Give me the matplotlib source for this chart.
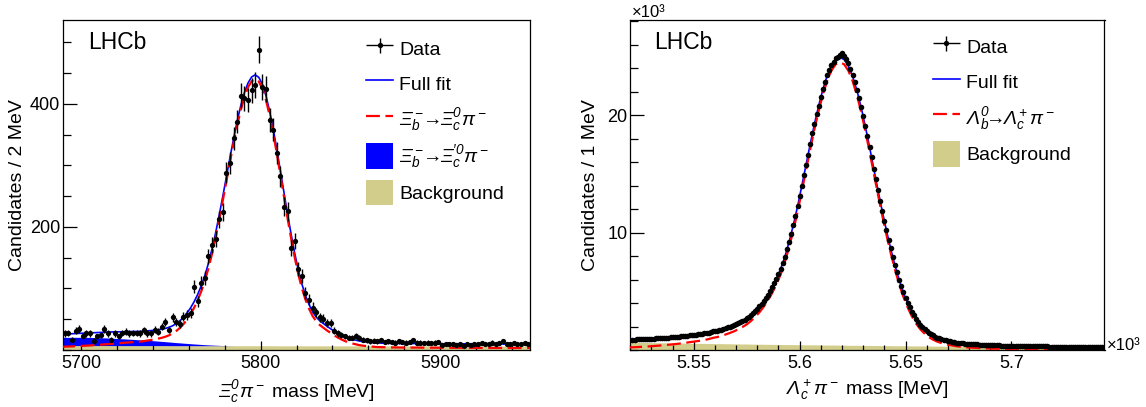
import numpy as np
import matplotlib
matplotlib.use('Agg')
import matplotlib.pyplot as plt
from matplotlib.ticker import MultipleLocator, FixedLocator, FuncFormatter
from matplotlib.lines import Line2D
from matplotlib.patches import Patch
from matplotlib.legend_handler import HandlerErrorbar

plt.rcParams['font.family'] = ['Liberation Sans', 'DejaVu Sans']
plt.rcParams['mathtext.fontset'] = 'custom'
plt.rcParams['mathtext.rm'] = 'Liberation Sans:italic'
plt.rcParams['mathtext.it'] = 'Liberation Sans:italic'
plt.rcParams['mathtext.bf'] = 'Liberation Sans:bold'
plt.rcParams['lines.scale_dashes'] = False

KHAKI = '#d2cd8a'
BLUE = '#0000ff'
RED = '#ff0000'

# --- Left: Xi_b- -> Xi_c0 pi-, 2 MeV bins (centres from 5691 MeV) ---
XI_DATA_FIRST = 5691
XI_DATA = [
    27, 28, 17, 31, 34, 22, 27, 27, 15, 22,
    24, 34, 27, 17, 27, 22, 28, 30, 27, 28,
    28, 27, 32, 27, 27, 33, 30, 38, 45, 33,
    53, 45, 42, 54, 57, 60, 103, 79, 109, 117,
    152, 170, 180, 212, 224, 288, 304, 344, 371, 413,
    409, 406, 422, 430, 488, 427, 424, 374, 358, 320,
    282, 233, 225, 166, 177, 131, 120, 93, 82, 69,
    61, 53, 51, 44, 44, 31, 27, 25, 22, 20,
    20, 23, 20, 17, 16, 14, 15, 14, 16, 13,
    14, 13, 12, 14, 13, 12, 13, 16, 12, 12,
    11, 12, 11, 12, 13, 8, 10, 9, 10, 8,
    9, 7, 9, 8, 10, 9, 11, 10, 9, 12,
    10, 11, 14, 10, 9, 11, 10, 9, 11, 10,
]

# fit components sampled every 2 MeV from 5689 MeV
XI_CURVE_FIRST = 5689
XI_SIGNAL = [
    5.2, 5.4, 5.6, 5.9, 6.1, 6.4, 6.7, 7.0, 7.4, 7.8,
    8.2, 8.6, 9.1, 9.6, 10.1, 10.6, 11.0, 11.5, 11.9, 12.3,
    12.8, 13.2, 13.7, 14.4, 15.3, 16.3, 17.2, 18.5, 19.8, 21.6,
    23.8, 26.8, 30.8, 35.6, 41.8, 49.3, 58.1, 68.6, 81.0, 95.5,
    112.6, 132.9, 156.6, 183.0, 212.1, 242.9, 274.6, 306.2, 336.6, 365.2,
    390.3, 411.0, 426.8, 436.5, 440.0, 436.0, 424.6, 406.1, 381.5, 352.4,
    319.9, 285.1, 249.5, 214.3, 181.3, 150.5, 123.2, 100.3, 81.8, 66.9,
    55.0, 46.6, 40.5, 36.1, 31.7, 27.7, 23.8, 20.2, 17.2, 14.5,
    12.3, 10.6, 9.2, 7.9, 7.0, 6.4, 5.7, 5.3, 4.8, 4.6,
    4.4, 4.3, 4.2, 4.1, 4.1, 4.0, 4.0, 3.9, 3.9, 3.9,
    3.8, 3.8, 3.8, 3.7, 3.7, 3.7, 3.7, 3.6, 3.6, 3.6,
    3.6, 3.6, 3.5, 3.5, 3.5, 3.5, 3.5, 3.4, 3.4, 3.4,
    3.4, 3.4, 3.4, 3.3, 3.3, 3.3, 3.3, 3.3, 3.3, 3.2,
    3.2, 3.2,
]
# Xi_b- -> Xi_c'0 pi- component, zero above 5785 MeV
XI_PRIME = [
    13.2, 13.3, 13.3, 13.4, 13.4, 13.4, 13.3, 13.3, 13.2, 13.1,
    12.9, 12.7, 12.5, 12.3, 12.0, 11.7, 11.4, 11.1, 10.8, 10.4,
    10.1, 9.7, 9.4, 9.0, 8.6, 8.2, 7.8, 7.3, 6.9, 6.4,
    6.0, 5.5, 5.0, 4.6, 4.1, 3.7, 3.2, 2.8, 2.4, 2.0,
    1.6, 1.3, 1.0, 0.75, 0.5, 0.35, 0.2, 0.1, 0.05,
]
XI_BKG = ([7.2] * 15 + [7.1] * 15 + [7.0] * 15 + [6.9] * 15 + [6.8] * 15
          + [6.7] * 15 + [6.6] * 14 + [6.5] * 14 + [6.4] * 14)

# --- Right: Lambda_b0 -> Lambda_c+ pi-, 1 MeV bins, values in 10^3 ---
LB_DATA_FIRST = 5521
LB_DATA = [
    0.89, 0.88, 0.90, 0.91, 0.90, 0.93, 0.93, 0.95, 0.94, 0.96,
    0.96, 0.98, 0.98, 1.00, 1.01, 1.03, 1.04, 1.05, 1.07, 1.08,
    1.10, 1.11, 1.13, 1.16, 1.18, 1.19, 1.22, 1.24, 1.26, 1.29,
    1.31, 1.33, 1.35, 1.38, 1.41, 1.45, 1.48, 1.53, 1.58, 1.61,
    1.65, 1.70, 1.73, 1.80, 1.86, 1.92, 1.99, 2.05, 2.12, 2.20,
    2.29, 2.38, 2.48, 2.58, 2.70, 2.83, 2.98, 3.15, 3.34, 3.51,
    3.71, 3.94, 4.18, 4.44, 4.71, 5.02, 5.35, 5.71, 6.08, 6.49,
    6.92, 7.42, 7.95, 8.57, 9.23, 9.92, 10.64, 11.44, 12.24, 13.08,
    14.00, 14.90, 15.78, 16.62, 17.58, 18.45, 19.25, 20.10, 20.78, 21.55,
    22.25, 22.80, 23.40, 23.85, 24.25, 24.55, 24.85, 24.95, 25.10, 25.30,
    25.05, 24.80, 24.45, 23.95, 23.40, 22.80, 22.15, 21.45, 20.72, 19.90,
    19.05, 18.20, 17.32, 16.40, 15.43, 14.55, 13.62, 12.70, 11.85, 11.00,
    10.18, 9.38, 8.65, 7.93, 7.24, 6.60, 5.99, 5.45, 4.92, 4.46,
    4.01, 3.63, 3.25, 2.94, 2.62, 2.38, 2.13, 1.95, 1.76, 1.62,
    1.46, 1.35, 1.24, 1.14, 1.06, 0.99, 0.93, 0.87, 0.82, 0.78,
    0.75, 0.70, 0.67, 0.63, 0.61, 0.58, 0.56, 0.55, 0.52, 0.52,
    0.51, 0.49, 0.48, 0.47, 0.46, 0.46, 0.44, 0.43, 0.43, 0.41,
    0.41, 0.39, 0.40, 0.39, 0.37, 0.38, 0.36, 0.37, 0.36, 0.35,
    0.36, 0.35, 0.34, 0.34, 0.33, 0.34, 0.33, 0.32, 0.33, 0.32,
    0.31, 0.31, 0.30, 0.31, 0.30, 0.31, 0.30, 0.29, 0.29, 0.28,
    0.29, 0.28, 0.28, 0.29, 0.28, 0.27, 0.27, 0.27, 0.26, 0.27,
    0.26, 0.27, 0.26, 0.26, 0.25, 0.25, 0.26, 0.25, 0.25, 0.24,
    0.25, 0.24, 0.24, 0.23,
]

# fit components sampled every 2 MeV from 5519 MeV
LB_CURVE_FIRST = 5519
LB_SIGNAL = [
    0.22, 0.23, 0.245, 0.265, 0.285, 0.31, 0.335, 0.365, 0.395, 0.43, 0.465,
    0.50, 0.54, 0.59, 0.64, 0.69, 0.74, 0.79, 0.85, 0.93, 1.03,
    1.10, 1.20, 1.32, 1.45, 1.59, 1.76, 1.96, 2.18, 2.47, 2.82,
    3.21, 3.68, 4.21, 4.85, 5.59, 6.42, 7.47, 8.75, 10.17, 11.76,
    13.52, 15.31, 17.10, 18.82, 20.38, 21.78, 22.93, 23.79, 24.33, 24.50,
    24.33, 23.79, 22.91, 21.73, 20.31, 18.67, 16.91, 15.07, 13.23, 11.47,
    9.80, 8.26, 6.86, 5.61, 4.53, 3.63, 2.87, 2.25, 1.76, 1.40,
    1.10, 0.88, 0.71, 0.59, 0.49, 0.41, 0.35, 0.30, 0.26, 0.22,
    0.20, 0.18, 0.16, 0.14, 0.13, 0.115, 0.105, 0.095, 0.088, 0.081,
    0.075, 0.070, 0.065, 0.060, 0.055, 0.051, 0.048, 0.045, 0.042, 0.038,
    0.036, 0.034, 0.032, 0.030, 0.028, 0.026, 0.025, 0.023, 0.022, 0.021,
    0.020, 0.019, 0.018,
]
LB_BKG = [
    0.66, 0.65, 0.65, 0.64, 0.64, 0.63, 0.62, 0.62, 0.61, 0.61,
    0.60, 0.60, 0.59, 0.59, 0.58, 0.57, 0.57, 0.56, 0.56, 0.55,
    0.55, 0.54, 0.54, 0.53, 0.53, 0.52, 0.52, 0.51, 0.51, 0.50,
    0.50, 0.49, 0.49, 0.48, 0.48, 0.47, 0.47, 0.46, 0.46, 0.46,
    0.45, 0.45, 0.44, 0.44, 0.44, 0.43, 0.43, 0.42, 0.42, 0.42,
    0.41, 0.41, 0.40, 0.40, 0.40, 0.39, 0.39, 0.39, 0.38, 0.38,
    0.37, 0.37, 0.37, 0.36, 0.36, 0.36, 0.35, 0.35, 0.35, 0.34,
    0.34, 0.34, 0.33, 0.33, 0.33, 0.32, 0.32, 0.32, 0.31, 0.31,
    0.31, 0.30, 0.30, 0.30, 0.30, 0.29, 0.29, 0.29, 0.28, 0.28,
    0.28, 0.28, 0.27, 0.27, 0.27, 0.27, 0.26, 0.26, 0.26, 0.26,
    0.25, 0.25, 0.25, 0.25, 0.24, 0.24, 0.24, 0.24, 0.23, 0.23,
    0.23, 0.23, 0.22, 0.22,
]


def style_axes(ax):
    for sp in ax.spines.values():
        sp.set_linewidth(0.9)
    ax.tick_params(which='both', direction='in', top=False, right=False,
                   width=0.9, labelsize=13)
    ax.tick_params(axis='y', which='major', length=10, pad=2)
    ax.tick_params(axis='y', which='minor', length=5.5)
    ax.tick_params(axis='x', which='major', length=6.7, pad=3.5)
    ax.tick_params(axis='x', which='minor', length=3.6)


def add_legend(ax, handles, labels, x, y):
    ax.legend(handles, labels, loc='upper left', bbox_to_anchor=(x, y),
              fontsize=14, frameon=False, borderpad=0, borderaxespad=0,
              handlelength=1.39, handleheight=1.65, labelspacing=0.5,
              handletextpad=0.31,
              handler_map={type(handles[0]): HandlerErrorbar(xerr_size=0.69, yerr_size=0.39)})


fig = plt.figure(figsize=(11.46, 4.07), dpi=100)
ax1 = fig.add_axes([63 / 1146, 57 / 407, 467 / 1146, 330 / 407])
ax2 = fig.add_axes([630.3 / 1146, 57 / 407, 474.2 / 1146, 330 / 407])

# ---------------- left panel ----------------
xd = XI_DATA_FIRST + 2 * np.arange(len(XI_DATA))
yd = np.array(XI_DATA, dtype=float)
xc = XI_CURVE_FIRST + 2 * np.arange(len(XI_SIGNAL))
sig = np.array(XI_SIGNAL)
bkg = np.array(XI_BKG)
nprime = len(XI_PRIME)
xip = np.zeros_like(sig)
xip[:nprime] = XI_PRIME
full = sig + xip + bkg

ax1.fill_between(xc, 0, bkg, color=KHAKI, lw=0, zorder=1)
ax1.fill_between(xc[:nprime], bkg[:nprime], bkg[:nprime] + xip[:nprime],
                 color=BLUE, lw=0, zorder=2)
ax1.plot(xc, full, color=BLUE, lw=1.2, zorder=3)
ax1.plot(xc, sig, color=RED, lw=1.6, dashes=(10, 4), zorder=4)
ax1.errorbar(xd, yd, yerr=np.sqrt(yd), fmt='o', color='k', ms=3.8, mew=0,
             elinewidth=1.0, capsize=2.2, capthick=1.0, zorder=5)

ax1.set_xlim(5690, 5950)
ax1.set_ylim(0, 536)
ax1.xaxis.set_major_locator(FixedLocator([5700, 5800, 5900]))
ax1.xaxis.set_minor_locator(MultipleLocator(20))
ax1.yaxis.set_major_locator(FixedLocator([200, 400]))
ax1.yaxis.set_minor_locator(MultipleLocator(50))
style_axes(ax1)
ax1.set_xlabel(r'$\Xi_c^0\pi^-$ mass [MeV]', fontsize=14)
ax1.set_ylabel('Candidates / 2 MeV', fontsize=14)
ax1.xaxis.set_label_coords(0.5, -0.085)
ax1.yaxis.set_label_coords(-0.079, 0.5)
ax1.text(0.054, 0.932, 'LHCb', transform=ax1.transAxes, fontsize=16.5,
         ha='left', va='center')

h_data = ax1.errorbar([np.nan], [np.nan], xerr=[1], yerr=[1], fmt='o',
                      color='k', ms=3.8, mew=0, elinewidth=1.0, capsize=0)
h_full = Line2D([], [], color=BLUE, lw=1.2)
h_sig = Line2D([], [], color=RED, lw=1.6, dashes=(10, 4))
h_prime = Patch(facecolor=BLUE, edgecolor='none')
h_bkg = Patch(facecolor=KHAKI, edgecolor='none')
add_legend(ax1, [h_data, h_full, h_sig, h_prime, h_bkg],
           ['Data', 'Full fit', r'$\Xi_b^-\!\!\rightarrow\!\!\Xi_c^0\pi^-$',
            r"$\Xi_b^-\!\!\rightarrow\!\!\Xi_c^{\prime 0}\pi^-$", 'Background'],
           0.649, 0.953)

# ---------------- right panel ----------------
xd2 = (LB_DATA_FIRST + np.arange(len(LB_DATA))) / 1000.0
yd2 = np.array(LB_DATA)
xc2 = (LB_CURVE_FIRST + 2 * np.arange(len(LB_SIGNAL))) / 1000.0
sig2 = np.array(LB_SIGNAL)
bkg2 = np.array(LB_BKG)
full2 = sig2 + bkg2

ax2.fill_between(xc2, 0, bkg2, color=KHAKI, lw=0, zorder=1)
ax2.plot(xc2, full2, color=BLUE, lw=1.2, zorder=3)
ax2.plot(xc2, sig2, color=RED, lw=1.6, dashes=(10, 4), zorder=4)
ax2.errorbar(xd2, yd2, yerr=np.sqrt(yd2 * 1000) / 1000, fmt='o', color='k',
             ms=4.0, mew=0, elinewidth=1.0, capsize=0, zorder=5)

ax2.set_xlim(5.520, 5.744)
ax2.set_ylim(0, 28.1)
ax2.xaxis.set_major_locator(FixedLocator([5.55, 5.6, 5.65, 5.7]))
ax2.xaxis.set_minor_locator(MultipleLocator(0.01))
ax2.xaxis.set_major_formatter(FuncFormatter(lambda v, p: f'{v:g}'))
ax2.yaxis.set_major_locator(FixedLocator([10, 20]))
ax2.yaxis.set_minor_locator(MultipleLocator(2))
style_axes(ax2)
ax2.set_xlabel(r'$\Lambda_c^+\pi^-$ mass [MeV]', fontsize=14)
ax2.set_ylabel('Candidates / 1 MeV', fontsize=14)
ax2.xaxis.set_label_coords(0.5, -0.085)
ax2.yaxis.set_label_coords(-0.066, 0.5)
ax2.text(0.051, 0.932, 'LHCb', transform=ax2.transAxes, fontsize=16.5,
         ha='left', va='center')
ax2.text(0.004, 1.009, '×10³', transform=ax2.transAxes, fontsize=12,
         ha='left', va='baseline')
ax2.text(1.004, 0.0, '×10³', transform=ax2.transAxes, fontsize=12,
         ha='left', va='baseline')

h_data2 = ax2.errorbar([np.nan], [np.nan], xerr=[1], yerr=[1], fmt='o',
                       color='k', ms=3.8, mew=0, elinewidth=1.0, capsize=0)
h_lb = Line2D([], [], color=RED, lw=1.6, dashes=(10, 4))
add_legend(ax2, [h_data2, h_full, h_lb, h_bkg],
           ['Data', 'Full fit', r'$\Lambda_b^0\!\!\rightarrow\!\!\Lambda_c^+\pi^-$',
            'Background'],
           0.638, 0.958)

fig.savefig('out.png', dpi=100)
